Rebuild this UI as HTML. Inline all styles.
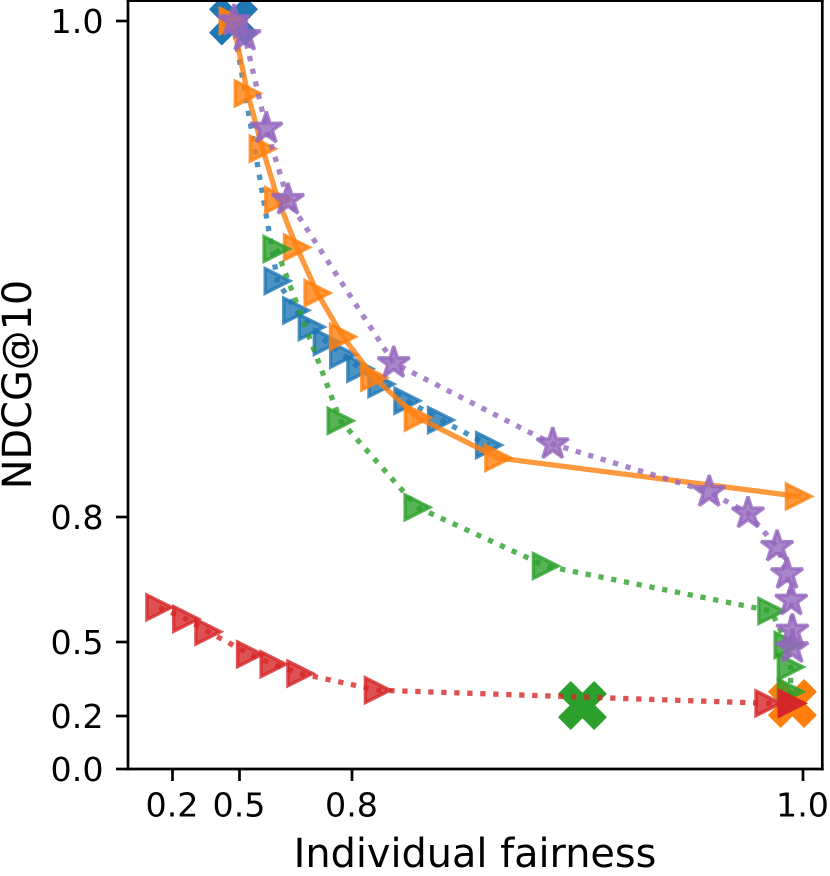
<!DOCTYPE html>
<html lang="en">
<head>
<meta charset="utf-8">
<title>NDCG@10 vs Individual fairness</title>
<style>
  html, body { margin: 0; padding: 0; background: #fff; }
  svg { display: block; font-family: "DejaVu Sans", "Liberation Sans", sans-serif; }
</style>
</head>
<body>
<svg id="chart" xmlns="http://www.w3.org/2000/svg" width="830" height="876" viewBox="0 0 830 876">
  <defs>
    <clipPath id="plot-clip"><rect x="128" y="1" width="694" height="768"></rect></clipPath>
  </defs>
  <rect x="0" y="0" width="830" height="876" fill="#ffffff"></rect>
  <g id="plot" clip-path="url(#plot-clip)"></g>
  <g id="axes"></g>
  <text x="475" y="867" font-size="39.8" text-anchor="middle" fill="#000">Individual fairness</text>
  <text transform="translate(31 384.5) rotate(-90)" font-size="39.8" text-anchor="middle" fill="#000">NDCG@10</text>
</svg>
<script>
const xTicks = [0.2, 0.5, 0.8, 1.0];
const xTickLabels = ["0.2", "0.5", "0.8", "1.0"];
const yTicks = [0.0, 0.2, 0.5, 0.8, 1.0];
const yTickLabels = ["0.0", "0.2", "0.5", "0.8", "1.0"];

const blueX = [0.4696, 0.6013, 0.6507, 0.6923, 0.7323, 0.776, 0.8036, 0.813, 0.8245, 0.8394, 0.8607];
const blueY = [1.0, 0.8952, 0.8833, 0.8766, 0.8706, 0.8654, 0.8598, 0.8536, 0.8469, 0.8391, 0.829];

const orangeX = [0.4696, 0.4696, 0.5216, 0.5616, 0.6029, 0.6528, 0.7077, 0.7755, 0.8098, 0.8291, 0.8648, 0.9981];
const orangeY = [1.0, 1.0, 0.9708, 0.9485, 0.9278, 0.9087, 0.8903, 0.8727, 0.8562, 0.8401, 0.8238, 0.8083];

const greenX = [0.5984, 0.7693, 0.829, 0.8859, 0.9859, 0.9931, 0.9945, 0.9945, 0.9949];
const greenY = [0.9081, 0.8388, 0.8039, 0.6824, 0.5744, 0.4878, 0.3986, 0.2985, 0.2507];

const redX = [0.1404, 0.2605, 0.3599, 0.5277, 0.5904, 0.6619, 0.8114, 0.9846, 0.995, 0.995, 0.995];
const redY = [0.5833, 0.5552, 0.5247, 0.4501, 0.41, 0.3723, 0.3046, 0.2515, 0.2515, 0.2515, 0.2515];

const purpleX = [0.4754, 0.5139, 0.5715, 0.6293, 0.8185, 0.889, 0.9584, 0.9756, 0.9885, 0.9929, 0.9948, 0.9953, 0.9952];
const purpleY = [1.0, 0.994, 0.9567, 0.9279, 0.8621, 0.8294, 0.8101, 0.8015, 0.7287, 0.6632, 0.5996, 0.5276, 0.4756];

const baselineX = [0.4732, 0.9953, 0.9022];
const baselineY = [1.0, 0.2507, 0.2426];

const BLUE = "#1f77b4", ORANGE = "#ff7f0e", GREEN = "#2ca02c", RED = "#d62728", PURPLE = "#9467bd";
const NS = "http://www.w3.org/2000/svg";

function piecewise(v, ds, ps) {
  let i = 0;
  while (i < ds.length - 2 && v > ds[i + 1]) i++;
  return ps[i] + (v - ds[i]) * (ps[i + 1] - ps[i]) / (ds[i + 1] - ds[i]);
}
function xScale(v) { return piecewise(v, [0.2, 0.5, 0.8, 1.0], [172.5, 239.5, 352, 803]); }
function yScale(v) { return piecewise(v, [0.0, 0.2, 0.5, 0.8, 1.0], [769, 716, 642, 517, 21]); }

function make(tag, attrs, parent) {
  const el = document.createElementNS(NS, tag);
  for (const k in attrs) el.setAttribute(k, attrs[k]);
  parent.appendChild(el);
  return el;
}

function trianglePath(x, y) {
  const s = 12.3;
  return "M" + (x - s) + " " + (y - s) + "L" + (x + s) + " " + y + "L" + (x - s) + " " + (y + s) + "Z";
}
function starPath(x, y) {
  const R = 16.8, r = R * 0.381966;
  let d = "";
  for (let i = 0; i < 10; i++) {
    const a = (-90 + 36 * i) * Math.PI / 180, q = i % 2 ? r : R;
    d += (i ? "L" : "M") + (x + q * Math.cos(a)).toFixed(2) + " " + (y + q * Math.sin(a)).toFixed(2);
  }
  return d + "Z";
}
function crossPath(x, y) {
  const u = 11.7;
  const pts = [[-1,-2],[0,-1],[1,-2],[2,-1],[1,0],[2,1],[1,2],[0,1],[-1,2],[-2,1],[-1,0],[-2,-1]];
  return pts.map((p, i) => (i ? "L" : "M") + (x + p[0] * u) + " " + (y + p[1] * u)).join("") + "Z";
}

const plot = document.getElementById("plot");
const axes = document.getElementById("axes");

/* baseline X markers sit beneath all lines */
const crossColors = [BLUE, ORANGE, GREEN];
baselineX.forEach(function (v, i) {
  const cross = make("path", {
    d: crossPath(xScale(v), yScale(baselineY[i])),
    fill: crossColors[i], stroke: crossColors[i], "stroke-width": 1.6, "stroke-linejoin": "round"
  }, plot);
  
  
});

function drawSeries(name, xs, ys, color, solid, shape) {
  const g = make("g", {}, plot);
  
  
  const pts = xs.map((v, i) => xScale(v).toFixed(2) + "," + yScale(ys[i]).toFixed(2)).join(" ");
  const line = make("polyline", {
    points: pts, fill: "none", stroke: color, "stroke-width": 5.3, "stroke-opacity": 0.8,
    "stroke-linejoin": "round", "stroke-linecap": solid ? "square" : "butt",
    "stroke-dasharray": solid ? "none" : "5.3 7.7"
  }, g);
  
  
  xs.forEach(function (v, i) {
    const px = xScale(v), py = yScale(ys[i]);
    const mark = make("path", {
      d: shape === "star" ? starPath(px, py) : trianglePath(px, py),
      fill: color, "fill-opacity": 0.8, stroke: color, "stroke-opacity": 0.8,
      "stroke-width": 3.4, "stroke-linejoin": shape === "star" ? "bevel" : "miter", "stroke-miterlimit": 10
    }, g);
    
    
  });
}

drawSeries("blue", blueX, blueY, BLUE, false, "triangle");
drawSeries("orange", orangeX, orangeY, ORANGE, true, "triangle");
drawSeries("green", greenX, greenY, GREEN, false, "triangle");
drawSeries("red", redX, redY, RED, false, "triangle");
drawSeries("purple", purpleX, purpleY, PURPLE, false, "star");

/* spines */
const spines = [
  ["left-spine", 128, 0.7, 128, 769],
  ["right-spine", 822.3, 0.7, 822.3, 769],
  ["top-spine", 128, 0.7, 822.3, 0.7],
  ["bottom-spine", 128, 769, 822.3, 769]
];
spines.forEach(function (s) {
  const sp = make("line", { x1: s[1], y1: s[2], x2: s[3], y2: s[4], stroke: "#000", "stroke-width": 2.7, "stroke-linecap": "square" }, axes);
  
  
});

/* ticks */
xTicks.forEach(function (v, i) {
  const px = xScale(v);
  const tick = make("line", { x1: px, y1: 769, x2: px, y2: 781, stroke: "#000", "stroke-width": 2.7 }, axes);
  
  
  const label = make("text", { x: px - 0.5, y: 816.5, "font-size": 33.3, "text-anchor": "middle", fill: "#000" }, axes);
  
  
  label.textContent = xTickLabels[i];
});
yTicks.forEach(function (v, i) {
  const py = yScale(v);
  const tick = make("line", { x1: 116, y1: py, x2: 128, y2: py, stroke: "#000", "stroke-width": 2.7 }, axes);
  
  
  const label = make("text", { x: 103.5, y: py + 12, "font-size": 33.3, "text-anchor": "end", fill: "#000" }, axes);
  
  
  label.textContent = yTickLabels[i];
});
</script>
</body>
</html>
